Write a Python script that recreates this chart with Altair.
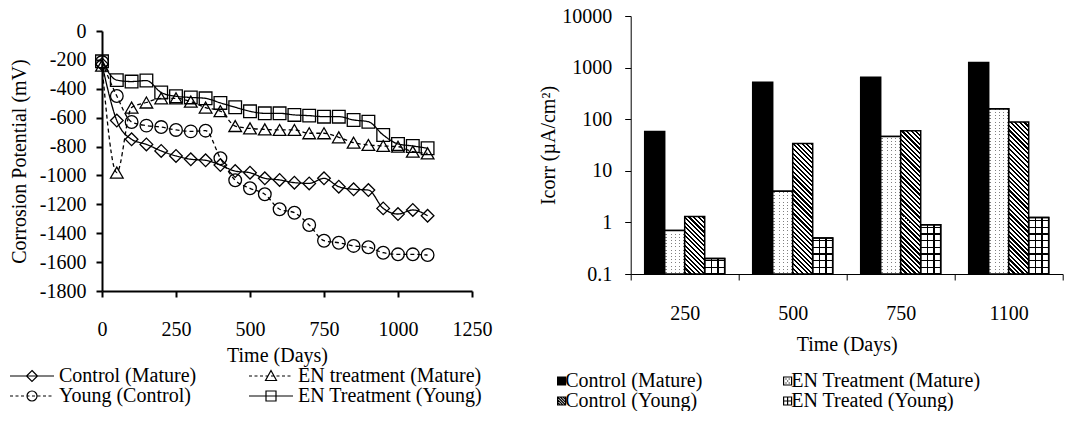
import math
import altair as alt
import pandas as pd

# ---------------- left chart data ----------------
days = list(range(0, 1101, 50))
line_series = ["Control (Mature)", "EN treatment (Mature)", "Young (Control)", "EN Treatment (Young)"]
control_mature = [-230, -620, -750, -785, -830, -865, -888, -895, -928, -970, -981, -1020,
                  -1031, -1050, -1055, -1020, -1078, -1096, -1101, -1228, -1267, -1239, -1279]
en_treatment_mature = [-240, -980, -530, -495, -466, -466, -489, -530, -555, -658, -674, -681,
                       -685, -685, -708, -708, -736, -773, -789, -796, -801, -835, -847]
young_control = [-215, -450, -630, -655, -665, -685, -695, -690, -881, -1033, -1089, -1130,
                 -1234, -1258, -1343, -1452, -1466, -1488, -1497, -1535, -1546, -1546, -1551]
en_treatment_young = [-210, -340, -350, -343, -426, -452, -460, -466, -498, -528, -556, -570,
                      -570, -581, -586, -593, -593, -616, -628, -720, -782, -796, -812]
left_x_ticks = [0, 250, 500, 750, 1000, 1250]
left_y_ticks = list(range(-1800, 1, 200))

# ---------------- right chart data ----------------
times = ["250", "500", "750", "1100"]
bar_series = ["Control (Mature)", "EN Treatment (Mature)", "Control (Young)", "EN Treated (Young)"]
icorr_control_mature = [58, 520, 650, 1250]
icorr_en_mature = [0.7, 4, 46, 160]
icorr_control_young = [1.3, 34, 60, 88]
icorr_en_young = [0.2, 0.5, 0.9, 1.25]
right_y_ticks = [0.1, 1, 10, 100, 1000, 10000]

rows = []
for s, vals in zip(line_series, [control_mature, en_treatment_mature, young_control, en_treatment_young]):
    for d, v in zip(days, vals):
        rows.append({"day": d, "series": s, "value": v})
line_df = pd.DataFrame(rows)

brow = []
for s, vals in zip(bar_series, [icorr_control_mature, icorr_en_mature, icorr_control_young, icorr_en_young]):
    for t, v in zip(times, vals):
        brow.append({"time": t, "series": s, "icorr": v})
bar_df = pd.DataFrame(brow)

FONT = "Liberation Serif"

# ---------------- layout constants ----------------
LW, LH = 370, 275
RW, RH = 432, 258
BAR_W = (RW / 4) / 5.4
DECADE = RH / 5.0

# ---------------- left chart ----------------
xl = alt.X("day:Q", scale=alt.Scale(domain=[0, 1250], nice=False),
           axis=alt.Axis(values=left_x_ticks, labelExpr="'' + datum.value", title="Time (Days)",
                         tickSize=6, tickWidth=2, domainWidth=2, labelPadding=22, titlePadding=6,
                         labelFlush=False, labelOverlap=False, titleX=175))
yl = alt.Y("value:Q", scale=alt.Scale(domain=[-1800, 0], range=[LH, 15], nice=False, zero=False),
           axis=alt.Axis(values=left_y_ticks, labelExpr="'' + datum.value",
                         title="Corrosion Potential (mV)", tickSize=6, tickWidth=2, domainWidth=2,
                         labelPadding=10, titlePadding=10, labelFlush=False))

marker_shapes = ["diamond", "triangle-up", "circle", "square"]
dash_styles = [[1, 0], [4, 3], [4, 3], [1, 0]]
line_layers = []
point_layers = []
for s, shp, dsh in zip(line_series, marker_shapes, dash_styles):
    line_layers.append(
        alt.Chart(line_df).mark_line(interpolate="monotone", color="black", strokeWidth=1.3,
                                     strokeDash=dsh)
        .encode(x=xl, y=yl)
        .transform_filter(alt.datum.series == s)
    )
    point_layers.append(
        alt.Chart(line_df).mark_point(shape=shp, size=160, color="black", filled=False,
                                      strokeWidth=1.3, opacity=1)
        .encode(x=xl, y=yl)
        .transform_filter(alt.datum.series == s)
    )


def dashed(l):
    segs = []
    a = -l
    while a < l:
        b = min(a + 0.6, l)
        segs.append(f"M{a:.2f},0H{b:.2f}")
        a += 1.1
    return "".join(segs)


L = 4.4
solid = f"M{-L},0H{L}"
circle_path = "M-1,0C-1,-0.55 -0.55,-1 0,-1C0.55,-1 1,-0.55 1,0C1,0.55 0.55,1 0,1C-0.55,1 -1,0.55 -1,0Z"
leg_paths = [
    solid + "M0,-1.1L1.1,0L0,1.1L-1.1,0Z",
    dashed(L) + "M0,-1.1L1.1,0.9L-1.1,0.9Z",
    dashed(L) + circle_path,
    solid + "M-1,-1H1V1H-1Z",
]


def make_legend(**kw):
    return alt.Legend(orient="none", direction="horizontal", columns=2, title=None,
                      symbolStrokeWidth=1.2, symbolStrokeColor="black",
                      labelFont=FONT, labelColor="black", labelLimit=400, **kw)


left_legend = make_legend(legendX=-80, legendY=350, symbolSize=100, labelFontSize=20,
                          labelOffset=17, columnPadding=49, rowPadding=-1)
left_leg_layer = alt.Chart(pd.DataFrame({"series": line_series})).mark_point(
    strokeWidth=1.2, opacity=1).encode(
    shape=alt.Shape("series:N", scale=alt.Scale(domain=line_series, range=leg_paths),
                    legend=left_legend),
    stroke=alt.Stroke("series:N", scale=alt.Scale(domain=line_series, range=["black"] * 4),
                      legend=left_legend),
    fill=alt.Fill("series:N", scale=alt.Scale(domain=line_series, range=["transparent"] * 4),
                  legend=left_legend),
).transform_filter("false")

left = alt.layer(*line_layers, *point_layers, left_leg_layer).properties(width=LW, height=LH)


# ---------------- right chart ----------------
def grad(x1, y1, x2, y2, stops):
    return alt.LinearGradient(gradient="linear", x1=x1, y1=y1, x2=x2, y2=y2,
                              stops=[alt.GradientStop(offset=round(o, 5), color=c) for o, c in stops])


def stripe_stops(total, period, on_w, phase, on_c, off_c):
    out = []
    k = -1
    while True:
        a = phase + k * period
        if a > total:
            break
        for s, e, c in ((a, a + on_w, on_c), (a + on_w, a + period, off_c)):
            s2 = min(max(s, 0), total)
            e2 = min(max(e, 0), total)
            if e2 > s2:
                out.append((s2 / total, c))
                out.append((e2 / total, c))
        k += 1
    return out


def bar_h(v):
    return DECADE * (math.log10(v) + 1)


xr = alt.X("time:N", sort=times, scale=alt.Scale(paddingInner=0, paddingOuter=0),
           axis=alt.Axis(title="Time (Days)", tickBand="extent", tickSize=6, labelPadding=23,
                         titlePadding=11, labelAngle=0, domainWidth=1))
xo = alt.XOffset("series:N", sort=bar_series,
                 scale=alt.Scale(domain=bar_series, paddingInner=0, paddingOuter=0.7))
yr = alt.Y("icorr:Q", scale=alt.Scale(type="log", domain=[0.1, 10000], nice=False),
           axis=alt.Axis(values=right_y_ticks, labelExpr="'' + datum.value",
                         title="Icorr  (µA/cm²)", tickSize=6, labelPadding=13, titlePadding=3,
                         labelFlush=False))

base = alt.Chart(bar_df).encode(x=xr, xOffset=xo, y=yr, y2=alt.datum(0.1))
STROKE = dict(stroke="black", strokeWidth=1.5)


def sel(s, t=None):
    if t is None:
        return alt.datum.series == s
    return (alt.datum.series == s) & (alt.datum.time == t)


layers = []
# black bars
layers.append(base.mark_bar(fill="black", **STROKE).transform_filter(sel(bar_series[0])))
# dotted bars: gray columns + white bands with gaps -> dots
dot_cols = grad(0, 0, 1, 0, stripe_stops(BAR_W, 4.2, 1.0, 1.6, "#808080", "white"))
layers.append(base.mark_bar(fill=dot_cols, **STROKE).transform_filter(sel(bar_series[1])))
for t, v in zip(times, icorr_en_mature):
    h = bar_h(v)
    g = grad(0, 1, 0, 0, stripe_stops(h, 3.2, 1.0, 1.0, "rgba(255,255,255,0)", "white"))
    layers.append(base.mark_bar(fill=g, **STROKE).transform_filter(sel(bar_series[1], t)))
# hatch bars (diagonal stripes)
for t, v in zip(times, icorr_control_young):
    h = bar_h(v)
    w = BAR_W
    k = (w + h) / (w * w + h * h)
    g = grad(0, 1, k * w, 1 - k * h, stripe_stops(w + h, 4.6, 2.2, 0.5, "black", "white"))
    layers.append(base.mark_bar(fill=g, **STROKE).transform_filter(sel(bar_series[2], t)))
# grid bars
pg = BAR_W / 3
vgrid = grad(0, 0, 1, 0, stripe_stops(BAR_W, pg, 1.2, pg - 0.6, "black", "white"))
layers.append(base.mark_bar(fill=vgrid, **STROKE).transform_filter(sel(bar_series[3])))
for t, v in zip(times, icorr_en_young):
    h = bar_h(v)
    g = grad(0, 1, 0, 0, stripe_stops(h, pg, 1.2, pg - 0.6, "black", "rgba(0,0,0,0)"))
    layers.append(base.mark_bar(fill=g, **STROKE).transform_filter(sel(bar_series[3], t)))

# legend symbols drawn slightly right of their nominal centre so labels sit close
sx = 1.6
sq = f"M{-1 + sx},-1H{1 + sx}V1H{-1 + sx}Z"
bar_leg_paths = [
    sq,
    sq + "".join(f"M{x + sx:.2f},{y}h0.3" for x, y in [(-0.55, -0.5), (0.25, -0.5), (-0.15, 0),
                                                        (-0.55, 0.5), (0.25, 0.5)]),
    sq + "".join(f"M{a + sx:.2f},{b}L{c + sx:.2f},{d}" for a, b, c, d in
                 [(-1, -1, 1, 1), (-0.33, -1, 1, 0.33), (0.33, -1, 1, -0.33),
                  (-1, -0.33, 0.33, 1), (-1, 0.33, -0.33, 1)]),
    sq + f"M{sx},-1V1M{-1 + sx},0H{1 + sx}",
]
right_legend = make_legend(legendX=-85.5, legendY=355, symbolSize=64, labelFontSize=20,
                           labelOffset=0, columnPadding=68, rowPadding=-1)
right_leg_layer = alt.Chart(pd.DataFrame({"series": bar_series})).mark_point(
    strokeWidth=1.2, opacity=1).encode(
    shape=alt.Shape("series:N", scale=alt.Scale(domain=bar_series, range=bar_leg_paths),
                    legend=right_legend),
    fill=alt.Fill("series:N", scale=alt.Scale(domain=bar_series,
                  range=["black", "white", "white", "white"]), legend=right_legend),
    stroke=alt.Stroke("series:N", scale=alt.Scale(domain=bar_series, range=["black"] * 4),
                      legend=right_legend),
).transform_filter("false")

right = alt.layer(*layers, right_leg_layer).properties(width=RW, height=RH)

chart = alt.hconcat(left, right, spacing=158.7, bounds="flush").resolve_scale(
    shape="independent", fill="independent", stroke="independent"
).resolve_legend(shape="independent", fill="independent", stroke="independent").properties(
    padding={"left": 9, "top": 6, "right": 0, "bottom": 0}
).configure(font=FONT).configure_axis(
    labelFont=FONT, titleFont=FONT, labelFontSize=20, titleFontSize=20,
    labelColor="black", titleColor="black", titleFontWeight="normal",
    domainColor="black", tickColor="black", grid=False,
).configure_legend(
    labelFont=FONT, labelColor="black"
).configure_view(stroke=None)

chart.save("out.html", embed_options={"renderer": "svg", "actions": False})
